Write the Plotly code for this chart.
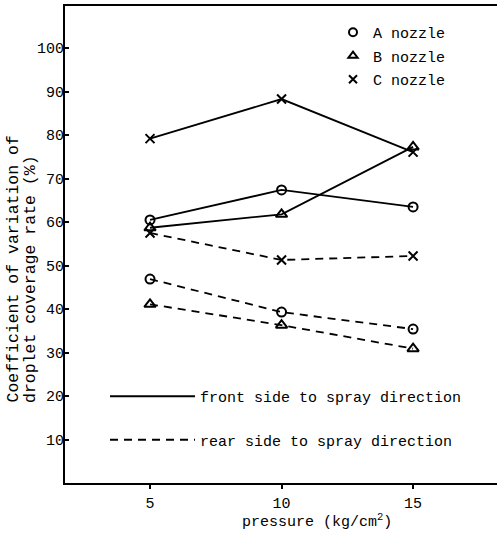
import plotly.graph_objects as go

# Spray pressure (kg/cm^2)
pressure = [5, 10, 15]

# Coefficient of variation (%) on the side facing the spray
front_a = [60.5, 67.4, 63.5]
front_b = [58.7, 61.8, 77.3]
front_c = [79.2, 88.3, 76.1]

# Coefficient of variation (%) on the side away from the spray
rear_a = [46.9, 39.3, 35.4]
rear_b = [41.1, 36.3, 30.9]
rear_c = [57.5, 51.3, 52.2]

nozzles = ["A nozzle", "B nozzle", "C nozzle"]
symbols = ["circle-open", "triangle-up-open", "x-thin-open"]
y_ticks = [10, 20, 30, 40, 50, 60, 70, 80, 90, 100]
x_ticks = [5, 10, 15]

FONT = "Liberation Mono, Courier New, monospace"
INK = "black"

fig = go.Figure()

series = [
    (front_a, 0, "solid"), (front_b, 1, "solid"), (front_c, 2, "solid"),
    (rear_a, 0, "8px,6px"), (rear_b, 1, "8px,6px"), (rear_c, 2, "8px,6px"),
]
for values, k, dash in series:
    fig.add_trace(go.Scatter(
        x=pressure, y=values, mode="lines+markers",
        line=dict(color=INK, width=1.8, dash=dash),
        marker=dict(symbol=symbols[k], size=9 if k != 1 else 10,
                    color=INK, line=dict(color=INK, width=2)),
        showlegend=False, hoverinfo="skip",
    ))

# nozzle symbol key
for k, name in enumerate(nozzles):
    fig.add_trace(go.Scatter(
        x=[None], y=[None], mode="markers", name=name,
        marker=dict(symbol=symbols[k], size=8, color=INK,
                    line=dict(color=INK, width=2)),
        legend="legend", legendgroup=name,
    ))

# line style key
for name, dash in [("front side to spray direction", "solid"),
                   ("rear side to spray direction", "8px,6px")]:
    fig.add_trace(go.Scatter(
        x=[None], y=[None], mode="lines", name=name,
        line=dict(color=INK, width=1.8, dash=dash),
        legend="legend2", legendgroup=name,
    ))

L, T, W, H = 65, 6, 497, 536
B = 53
pw, ph = W - L, H - T - B


def px(x):
    return (x - L) / pw


def py(y):
    return (H - B - y) / ph


fig.update_layout(
    width=W, height=H,
    margin=dict(l=L, r=0, t=T, b=B),
    paper_bgcolor="white", plot_bgcolor="white",
    font=dict(family=FONT, size=15, color=INK),
    legend=dict(
        x=px(333), y=py(16), xanchor="left", yanchor="top",
        bgcolor="rgba(0,0,0,0)", font=dict(size=15),
        traceorder="grouped", tracegroupgap=1, itemwidth=30,
    ),
    legend2=dict(
        x=px(105), y=py(380), xanchor="left", yanchor="top",
        bgcolor="rgba(0,0,0,0)", font=dict(size=15),
        traceorder="grouped", tracegroupgap=21, itemwidth=85,
    ),
    xaxis=dict(
        range=[1.768, 18.19], tickvals=x_ticks, ticktext=[str(v) for v in x_ticks],
        showgrid=False, zeroline=False,
        showline=True, linecolor=INK, linewidth=2, mirror=True,
        ticks="outside", ticklen=4, tickwidth=2, tickcolor=INK,
        ticklabelstandoff=1, tickfont=dict(size=15),
    ),
    yaxis=dict(
        range=[0, 109.7], tickvals=y_ticks, ticktext=[str(v) for v in y_ticks],
        showgrid=False, zeroline=False,
        showline=True, linecolor=INK, linewidth=2, mirror=False,
        ticks="inside", ticklen=4, tickwidth=2, tickcolor=INK,
        ticklabelstandoff=-4, tickfont=dict(size=15),
    ),
    annotations=[
        dict(text="pressure (kg/cm<sup>2</sup>)", xref="paper", yref="paper",
             x=px(317), y=py(521), xanchor="center", yanchor="middle",
             showarrow=False, font=dict(size=15)),
        dict(text="Coefficient of variation of", xref="paper", yref="paper",
             x=px(13), y=py(405), xanchor="center", yanchor="bottom",
             textangle=-90, showarrow=False, font=dict(size=16.5)),
        dict(text="droplet coverage rate (%)", xref="paper", yref="paper",
             x=px(30), y=py(405), xanchor="center", yanchor="bottom",
             textangle=-90, showarrow=False, font=dict(size=16.5)),
    ],
)

fig.write_html("out.html")
